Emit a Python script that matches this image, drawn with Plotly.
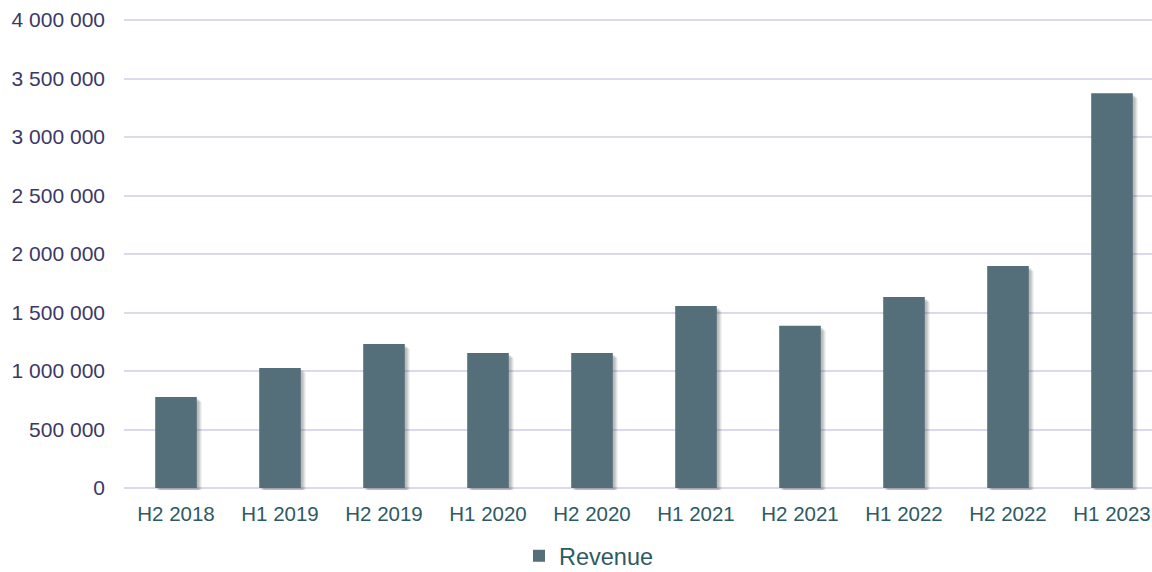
import plotly.graph_objects as go

categories = ["H2 2018", "H1 2019", "H2 2019", "H1 2020", "H2 2020",
              "H1 2021", "H2 2021", "H1 2022", "H2 2022", "H1 2023"]
revenue = [777000, 1026000, 1231000, 1154000, 1154000,
           1556000, 1387000, 1632000, 1897000, 3373000]
y_ticks = [0, 500000, 1000000, 1500000, 2000000, 2500000, 3000000, 3500000, 4000000]
y_tick_labels = ["0", "500 000", "1 000 000", "1 500 000", "2 000 000",
                 "2 500 000", "3 000 000", "3 500 000", "4 000 000"]

BAR_COLOR = "#546E7A"
GRID_COLOR = "#dcd9ee"
YLABEL_COLOR = "#3b3868"
XLABEL_COLOR = "#2e5a62"
FONT = "Liberation Sans, Arial, sans-serif"

W = 1152
H = 572
ML, MR, MT, MB = 124, 0, 18, 82
plot_h = H - MT - MB          # 472 px
px_y = 4000000 / (plot_h - 4)  # 468 px per 4M
x_range = [-0.5, -0.5 + (W - ML - MR) / 104.0]
px_x = 1 / 104.0
bar_w = 0.4

fig = go.Figure()

# soft drop shadow layers
for k, op in [(5, 0.07), (4, 0.09), (3, 0.11), (2, 0.13)]:
    fig.add_trace(go.Bar(
        x=list(range(len(categories))),
        y=revenue,
        base=[-k * px_y] * len(revenue),
        width=bar_w,
        offset=-bar_w / 2 + k * px_x,
        marker=dict(color=f"rgba(60,60,60,{op})", line=dict(width=0)),
        showlegend=False, hoverinfo="skip",
    ))

fig.add_trace(go.Bar(
    x=list(range(len(categories))),
    y=revenue,
    width=bar_w,
    marker=dict(color=BAR_COLOR, line=dict(width=0)),
    name="Revenue",
))

fig.update_layout(
    width=W, height=H,
    margin=dict(l=ML, r=MR, t=MT, b=MB, autoexpand=False),
    barmode="overlay",
    plot_bgcolor="white", paper_bgcolor="white",
    font=dict(family=FONT),
    showlegend=True,
    legend=dict(
        orientation="h",
        xref="container", yref="container",
        x=519 / W, xanchor="left",
        y=1 - 556 / H, yanchor="middle",
        font=dict(size=23.5, color=XLABEL_COLOR, family=FONT),
        itemwidth=30,
        bgcolor="rgba(0,0,0,0)",
    ),
    xaxis=dict(
        range=x_range,
        tickmode="array",
        tickvals=list(range(len(categories))),
        ticktext=categories,
        tickfont=dict(size=20.5, color=XLABEL_COLOR, family=FONT),
        showgrid=False, zeroline=False, showline=False,
        ticks="", ticklabelstandoff=9,
    ),
    yaxis=dict(
        range=[-2 * px_y, 4000000 + 2 * px_y],
        tickmode="array",
        tickvals=y_ticks,
        ticktext=y_tick_labels,
        tickfont=dict(size=21, color=YLABEL_COLOR, family=FONT),
        showgrid=True, gridcolor=GRID_COLOR, gridwidth=2,
        zeroline=False, showline=False,
        ticks="", ticklabelstandoff=18,
    ),
)

fig.write_html(
    "out.html",
    config={"displayModeBar": False},
    post_script="document.body.style.margin='0';document.body.style.overflow='hidden';",
)
